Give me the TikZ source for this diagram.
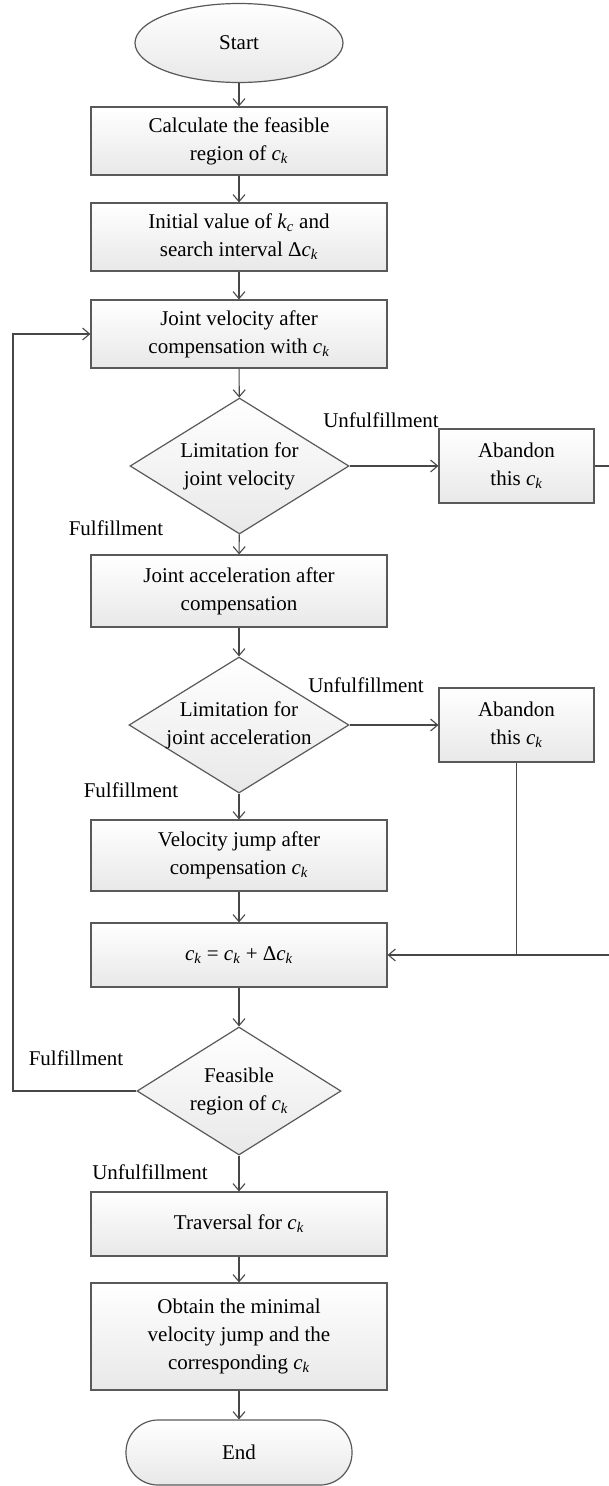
\documentclass[tikz,border=0pt]{standalone}
\usepackage{fontspec}
\setmainfont{Liberation Serif}
\usetikzlibrary{shapes.geometric,arrows.meta}
\newcommand\myck{\textit{c}\textsubscript{\textit{k}}}
\begin{document}
\begin{tikzpicture}[x=1pt,y=1pt,
  font=\fontsize{21}{28}\selectfont,
  shade/.style={draw=black!65, line width=1.2pt, top color=white, bottom color=black!9},
  boxshape/.style={shade, rectangle, minimum width=296pt, inner sep=0pt, align=center},
  sidebox/.style={shade, rectangle, minimum width=155pt, minimum height=74pt, inner sep=0pt, align=center},
  decshape/.style={shade, diamond, inner sep=0pt},
  txt/.style={align=center, inner sep=0pt},
  lab/.style={inner sep=0pt},
  arr/.style={draw=black!72, line width=1.1pt, -{Straight Barb[length=7pt,width=12pt]}},
  ln/.style={draw=black!72, line width=1.2pt}
]
\useasboundingbox (0,0) rectangle (609,-1486);

\node[shade, ellipse, minimum width=208pt, minimum height=79pt, inner sep=0pt] (start) at (239,-43) {Start};
\node[boxshape, minimum height=68pt] (b1) at (239,-141) {Calculate the feasible\\region of \myck};
\node[boxshape, minimum height=68pt] (b2) at (239,-237) {Initial value of \textit{k}\textsubscript{\textit{c}} and\\search interval Δ\myck};
\node[boxshape, minimum height=68pt] (b3) at (239,-334) {Joint velocity after\\compensation with \myck};
\node[decshape, minimum width=219pt, minimum height=136pt] (d1) at (239.5,-466) {};
\node[txt] (t1) at (d1) {Limitation for\\joint velocity};
\node[sidebox] (ab1) at (516.5,-466) {Abandon\\this \myck};
\node[boxshape, minimum height=72pt] (b4) at (239,-591) {Joint acceleration after\\compensation};
\node[decshape, minimum width=220pt, minimum height=136pt] (d2) at (239,-725) {};
\node[txt] (t2) at (d2) {Limitation for\\joint acceleration};
\node[sidebox] (ab2) at (516.5,-725) {Abandon\\this \myck};
\node[boxshape, minimum height=71pt] (b5) at (239,-855.5) {Velocity jump after\\compensation \myck};
\node[boxshape, minimum height=64pt] (b6) at (239,-955) {\myck{} = \myck{} + Δ\myck};
\node[decshape, minimum width=204pt, minimum height=128pt] (d3) at (239,-1091) {};
\node[txt] (t3) at (d3) {Feasible\\region of \myck};
\node[boxshape, minimum height=64pt] (b7) at (239,-1224) {Traversal for \myck};
\node[boxshape, minimum height=107pt] (b8) at (239,-1336.5) {Obtain the minimal\\velocity jump and the\\corresponding \myck};
\node[shade, rectangle, rounded corners=32pt, minimum width=226pt, minimum height=65pt, inner sep=0pt] (endn) at (239,-1452.5) {End};

\node[lab] (lu1) at (381,-420) {Unfulfillment};
\node[lab] (lf1) at (116,-528) {Fulfillment};
\node[lab] (lu2) at (366,-685) {Unfulfillment};
\node[lab] (lf2) at (131,-790) {Fulfillment};
\node[lab] (lf3) at (76,-1058) {Fulfillment};
\node[lab] (lu3) at (150,-1172) {Unfulfillment};

\coordinate (re1) at (609,-466);
\coordinate (re2) at (609,-955);
\coordinate (lp) at (13,-334);

\draw[arr] (start) -- (b1);
\draw[arr] (b1) -- (b2);
\draw[arr] (b2) -- (b3);
\draw[arr] (b3) -- (d1);
\draw[arr] (d1) -- (ab1);
\draw[arr] (d1) -- (b4);
\draw[arr] (b4) -- (d2);
\draw[arr] (d2) -- (ab2);
\draw[arr] (d2) -- (b5);
\draw[arr] (b5) -- (b6);
\draw[arr] (b6) -- (d3);
\draw[arr] (d3) -- (b7);
\draw[arr] (b7) -- (b8);
\draw[arr] (b8) -- (endn);
\draw[ln] (ab1.east) -- (re1);
\draw[ln] (ab2.south) -- (ab2.south |- b6.east);
\draw[arr] (re2) -- (b6.east);
\draw[arr] (d3.west) -| (lp) -- (b3.west);
\end{tikzpicture}
\end{document}
